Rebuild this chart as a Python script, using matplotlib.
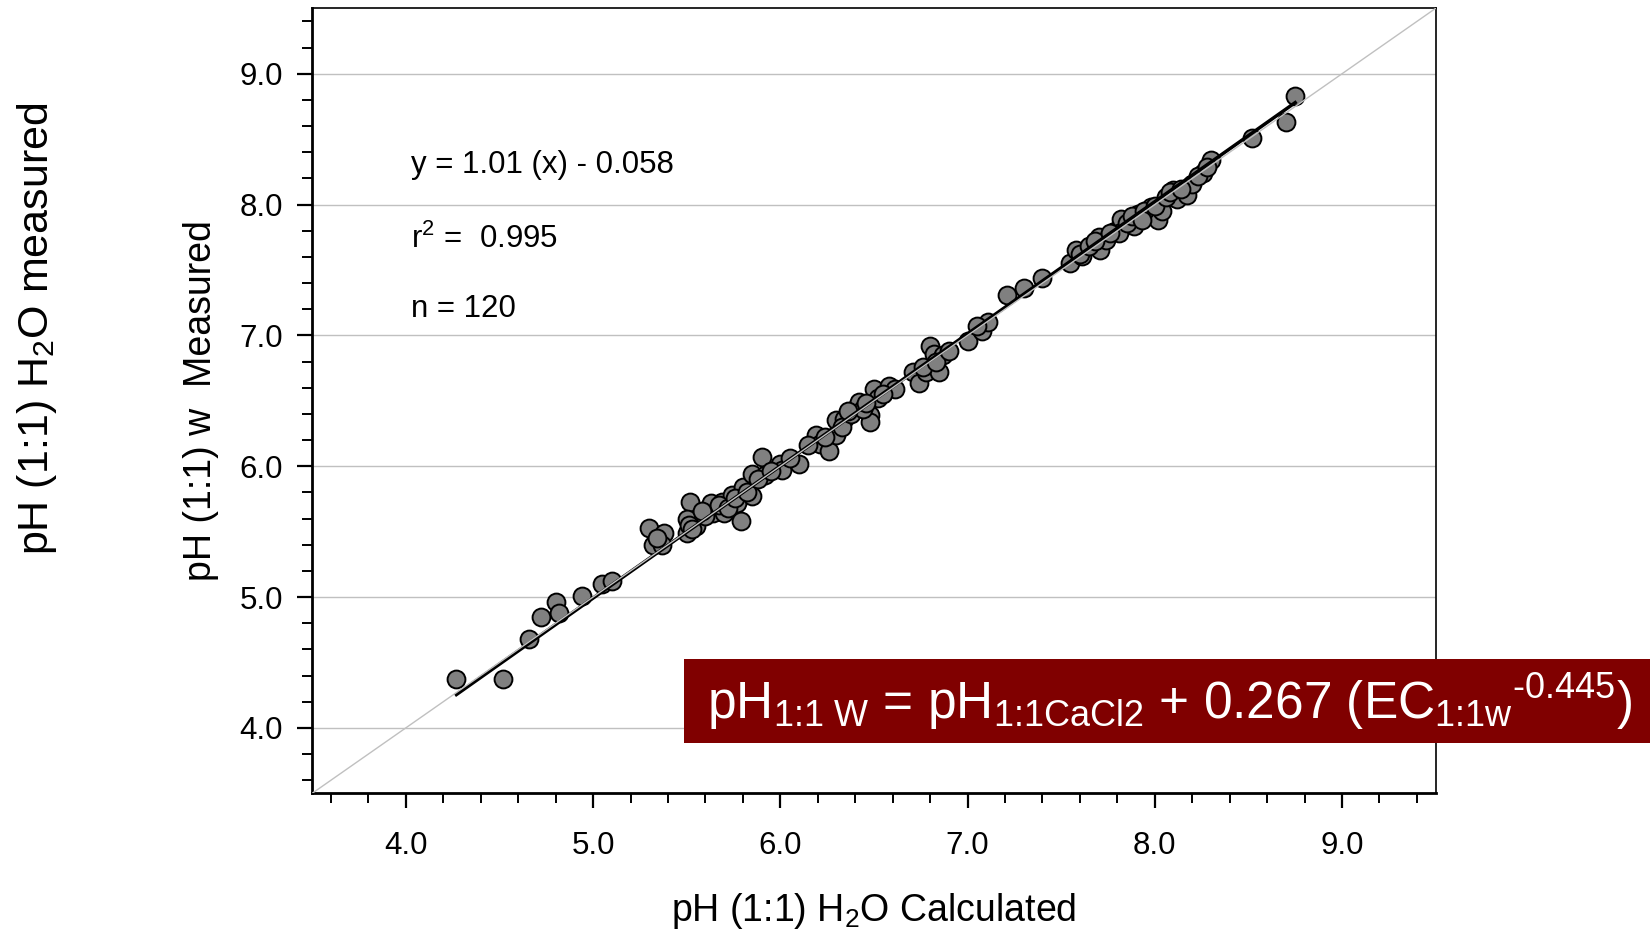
import numpy as np
import matplotlib
matplotlib.use("Agg")
import matplotlib.pyplot as plt
from matplotlib.patches import Rectangle
from matplotlib.ticker import MultipleLocator

plt.rcParams['font.family'] = ['Liberation Sans', 'DejaVu Sans']
plt.rcParams['mathtext.fontset'] = 'custom'
plt.rcParams['mathtext.rm'] = 'Liberation Sans'
plt.rcParams['mathtext.it'] = 'Liberation Sans'
plt.rcParams['mathtext.default'] = 'regular'

# calculated pH (1:1) H2O vs measured
ph_calc = [4.27, 4.52, 4.66, 4.72, 4.80, 4.82, 4.94, 5.05, 5.10, 5.30,
           5.32, 5.38, 5.37, 5.52, 5.50, 5.50, 5.55, 5.51, 5.63, 5.64,
           5.69, 5.70, 5.74, 5.77, 5.79, 5.80, 5.85, 5.85, 5.90, 5.92,
           6.00, 6.01, 6.10, 6.19, 6.21, 6.26, 6.30, 6.30, 6.34, 6.41,
           6.42, 6.48, 6.48, 6.50, 6.52, 6.58, 6.61, 6.71, 6.74, 6.78,
           6.80, 6.82, 6.85, 6.87, 7.00, 7.08, 7.11, 7.21, 7.30, 7.40,
           7.55, 7.58, 7.61, 7.70, 7.71, 7.74, 7.79, 7.82, 7.81, 7.89,
           7.91, 7.98, 8.02, 8.04, 8.10, 8.12, 8.17, 8.20, 8.26, 8.30,
           8.52, 8.70, 8.75,
           5.34, 5.53, 5.60, 5.67, 5.72, 5.76, 5.82, 5.88, 5.95, 6.05,
           6.15, 6.24, 6.33, 6.38, 6.44, 6.46, 6.55, 6.76, 6.83, 7.05,
           7.60, 7.65, 7.68, 7.76, 7.85, 7.88, 7.94, 8.00, 8.06, 8.08,
           8.14, 8.23, 8.28, 7.93, 6.90, 5.58, 6.36]
ph_meas = [4.37, 4.37, 4.68, 4.85, 4.96, 4.88, 5.01, 5.10, 5.12, 5.53,
           5.40, 5.49, 5.40, 5.73, 5.60, 5.49, 5.54, 5.55, 5.72, 5.64,
           5.73, 5.64, 5.78, 5.72, 5.58, 5.84, 5.77, 5.94, 6.07, 5.93,
           6.02, 5.97, 6.02, 6.24, 6.17, 6.12, 6.35, 6.24, 6.36, 6.45,
           6.49, 6.39, 6.34, 6.59, 6.52, 6.61, 6.59, 6.72, 6.64, 6.72,
           6.92, 6.86, 6.72, 6.85, 6.96, 7.03, 7.10, 7.31, 7.36, 7.44,
           7.55, 7.65, 7.61, 7.75, 7.65, 7.73, 7.80, 7.89, 7.78, 7.84,
           7.93, 7.98, 7.88, 7.95, 8.11, 8.04, 8.07, 8.16, 8.24, 8.34,
           8.51, 8.63, 8.83,
           5.45, 5.52, 5.62, 5.70, 5.68, 5.76, 5.80, 5.90, 5.96, 6.06,
           6.16, 6.22, 6.30, 6.40, 6.44, 6.48, 6.55, 6.76, 6.80, 7.07,
           7.62, 7.68, 7.72, 7.78, 7.86, 7.91, 7.95, 7.99, 8.06, 8.10,
           8.12, 8.22, 8.29, 7.88, 6.88, 5.66, 6.42]

slope = 1.01
intercept = -0.058
fit_x = [4.27, 8.75]
one_to_one = [3.5, 9.5]

fig = plt.figure(figsize=(16.52, 9.30), dpi=100)
ax = fig.add_axes([0.189, 0.147, 0.680, 0.844])

ax.scatter(ph_calc, ph_meas, s=165, c='#808080', edgecolors='black',
           linewidths=1.4, zorder=3)
fx = np.array(fit_x)
ax.plot(fx, slope * fx + intercept, color='black', lw=2.5, zorder=4)
ax.plot(one_to_one, one_to_one, color='#c0c0c0', lw=1.0, zorder=5)

ax.set_xlim(3.5, 9.5)
ax.set_ylim(3.5, 9.5)
ax.xaxis.set_minor_locator(MultipleLocator(0.2))
ax.yaxis.set_minor_locator(MultipleLocator(0.2))
ax.set_xticks([4, 5, 6, 7, 8, 9])
ax.set_yticks([4, 5, 6, 7, 8, 9])
ax.set_xticklabels(['4.0', '5.0', '6.0', '7.0', '8.0', '9.0'])
ax.set_yticklabels(['4.0', '5.0', '6.0', '7.0', '8.0', '9.0'])
ax.grid(axis='y', which='major', color='#c0c0c0', lw=1.0, zorder=0)
ax.set_axisbelow(True)

ax.tick_params(which='major', direction='out', length=11, width=1.6,
               labelsize=22.5, top=False, right=False)
ax.tick_params(which='minor', direction='out', length=7, width=1.4,
               top=False, right=False)
ax.tick_params(axis='x', which='major', pad=16)
ax.tick_params(axis='y', which='major', pad=10)
for side in ['left', 'bottom']:
    ax.spines[side].set_linewidth(2.0)
for side in ['top', 'right']:
    ax.spines[side].set_linewidth(1.2)

ax.set_xlabel('pH (1:1) H$_2$O Calculated', fontsize=27, labelpad=22)
ax.set_ylabel('pH (1:1) w  Measured', fontsize=27, labelpad=15)

fig.text(0.0224, 0.646, 'pH (1:1) H$_2$O measured', fontsize=31,
         rotation=90, ha='center', va='center')

ax.text(0.088, 0.80, 'y = 1.01 (x) - 0.058', transform=ax.transAxes,
        fontsize=22.5, va='center')
ax.text(0.088, 0.706, 'r$^2$ =  0.995', transform=ax.transAxes,
        fontsize=22.5, va='center')
ax.text(0.088, 0.617, 'n = 120', transform=ax.transAxes,
        fontsize=22.5, va='center')

box = Rectangle((0.414, 0.201), 0.585, 0.0903, transform=fig.transFigure,
                facecolor='#800000', edgecolor='none', zorder=10)
fig.add_artist(box)
eq = (r'pH$_{\text{1:1 W}}$ = pH$_{\text{1:1CaCl2}}$ + 0.267 '
      r'(EC$_{\text{1:1w}}{}^{\text{-0.445}}$)')
fig.text(0.708, 0.246, eq, fontsize=37, color='white',
         ha='center', va='center', zorder=11)

fig.savefig('out.png', dpi=100)
